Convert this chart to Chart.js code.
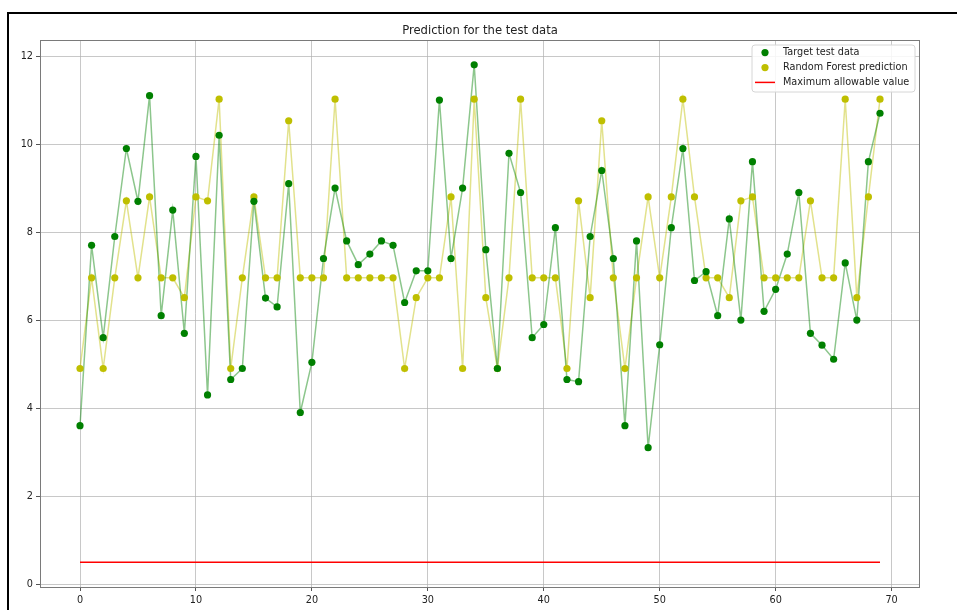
<!DOCTYPE html>
<html>
<head>
<meta charset="utf-8">
<script src="https://cdn.jsdelivr.net/npm/chart.js@4.4.1/dist/chart.umd.min.js"></script>
<style>
  html, body { margin: 0; padding: 0; background: #ffffff; }
  #wrap { width: 957px; height: 610px; position: relative; }
  canvas { display: block; }
</style>
</head>
<body>
<div id="wrap"><canvas id="c" width="957" height="610"></canvas></div>
<script>
// ---- data ----
const xIndex = [0,1,2,3,4,5,6,7,8,9,10,11,12,13,14,15,16,17,18,19,20,21,22,23,24,25,26,27,28,29,30,31,32,33,34,35,36,37,38,39,40,41,42,43,44,45,46,47,48,49,50,51,52,53,54,55,56,57,58,59,60,61,62,63,64,65,66,67,68,69];
const targetValues = [3.6,7.7,5.6,7.9,9.9,8.7,11.1,6.1,8.5,5.7,9.72,4.3,10.2,4.65,4.9,8.7,6.5,6.3,9.1,3.9,5.04,7.4,9.0,7.8,7.26,7.5,7.8,7.7,6.4,7.12,7.12,11.0,7.4,9.0,11.8,7.6,4.9,9.79,8.9,5.6,5.9,8.1,4.65,4.6,7.9,9.4,7.4,3.6,7.8,3.1,5.44,8.1,9.9,6.9,7.1,6.1,8.3,6.0,9.6,6.2,6.7,7.5,8.9,5.7,5.43,5.11,7.3,6.0,9.6,10.7];
const rfPrediction = [4.9,6.96,4.9,6.96,8.71,6.96,8.8,6.96,6.96,6.51,8.8,8.71,11.02,4.9,6.96,8.8,6.96,6.96,10.53,6.96,6.96,6.96,11.02,6.96,6.96,6.96,6.96,6.96,4.9,6.51,6.96,6.96,8.8,4.9,11.02,6.51,4.9,6.96,11.02,6.96,6.96,6.96,4.9,8.71,6.51,10.53,6.96,4.9,6.96,8.8,6.96,8.8,11.02,8.8,6.96,6.96,6.51,8.71,8.8,6.96,6.96,6.96,6.96,8.71,6.96,6.96,11.02,6.51,8.8,11.02];
const maxAllowableValue = 0.5;
const maxLineX = [0, 69];
const xTicks = [0,10,20,30,40,50,60,70];
const yTicks = [0,2,4,6,8,10,12];
const seriesLabels = ['Target test data', 'Random Forest prediction', 'Maximum allowable value'];
const titleText = 'Prediction for the test data';

// ---- build ----
const targetPts = xIndex.map((x, i) => ({ x: x, y: targetValues[i] }));
const rfPts = xIndex.map((x, i) => ({ x: x, y: rfPrediction[i] }));
const maxPts = maxLineX.map(x => ({ x: x, y: maxAllowableValue }));

const GREEN = '#008000';
const YELLOW = '#bfbf00';
const FONT = 'DejaVu Sans';
const tickFont = { family: FONT, size: 9.7 };
const PR = 3.6;

const decor = {
  id: 'decor',
  beforeDraw(chart) {
    const ctx = chart.ctx;
    ctx.save();
    ctx.fillStyle = '#ffffff';
    ctx.fillRect(0, 0, chart.width, chart.height);
    ctx.restore();
  },
  afterDatasetsDraw(chart) {
    const ctx = chart.ctx;
    const a = chart.chartArea;
    ctx.save();
    // spines
    ctx.strokeStyle = '#7a7a7a';
    ctx.lineWidth = 1;
    ctx.strokeRect(a.left + 0.5, a.top + 0.5, a.right - a.left - 1, a.bottom - a.top);
    // legend box
    const bx = 752, by = 45, bw = 163, bh = 47, r = 3;
    ctx.beginPath();
    ctx.moveTo(bx + r, by);
    ctx.lineTo(bx + bw - r, by);
    ctx.arcTo(bx + bw, by, bx + bw, by + r, r);
    ctx.lineTo(bx + bw, by + bh - r);
    ctx.arcTo(bx + bw, by + bh, bx + bw - r, by + bh, r);
    ctx.lineTo(bx + r, by + bh);
    ctx.arcTo(bx, by + bh, bx, by + bh - r, r);
    ctx.lineTo(bx, by + r);
    ctx.arcTo(bx, by, bx + r, by, r);
    ctx.closePath();
    ctx.fillStyle = 'rgba(255,255,255,0.85)';
    ctx.fill();
    ctx.strokeStyle = '#d6d6d6';
    ctx.lineWidth = 1;
    ctx.stroke();
    const rows = [52.6, 67.6, 82.4];
    ctx.fillStyle = GREEN;
    ctx.beginPath(); ctx.arc(765, rows[0], PR, 0, Math.PI * 2); ctx.fill();
    ctx.fillStyle = YELLOW;
    ctx.beginPath(); ctx.arc(765, rows[1], PR, 0, Math.PI * 2); ctx.fill();
    ctx.strokeStyle = '#ff0000';
    ctx.lineWidth = 1.5;
    ctx.beginPath(); ctx.moveTo(755, rows[2]); ctx.lineTo(775, rows[2]); ctx.stroke();
    ctx.fillStyle = '#222222';
    ctx.font = '9.7px "' + FONT + '"';
    ctx.textBaseline = 'middle';
    ctx.textAlign = 'left';
    seriesLabels.forEach((t, i) => ctx.fillText(t, 783, rows[i]));
    // title
    ctx.font = '11.6px "' + FONT + '"';
    ctx.textAlign = 'center';
    ctx.textBaseline = 'alphabetic';
    ctx.fillText(titleText, (a.left + a.right) / 2, 33.5);
    // outer frame
    ctx.fillStyle = '#000000';
    ctx.fillRect(7, 12, chart.width - 7, 2);
    ctx.fillRect(7, 12, 2, chart.height - 12);
    ctx.restore();
  }
};

new Chart(document.getElementById('c'), {
  type: 'scatter',
  data: {
    datasets: [
      { label: seriesLabels[0], data: targetPts, showLine: false, pointRadius: PR, pointHoverRadius: PR,
        pointBackgroundColor: GREEN, pointBorderWidth: 0, borderColor: GREEN, order: 0 },
      { label: seriesLabels[1], data: rfPts, showLine: false, pointRadius: PR, pointHoverRadius: PR,
        pointBackgroundColor: YELLOW, pointBorderWidth: 0, borderColor: YELLOW, order: 1 },
      { label: seriesLabels[2], data: maxPts, showLine: true, pointRadius: 0, borderColor: '#ff0000',
        borderWidth: 1.5, order: 2 },
      { label: 'target line', data: targetPts, showLine: true, pointRadius: 0,
        borderColor: 'rgba(0,128,0,0.45)', borderWidth: 1.5, order: 3 },
      { label: 'rf line', data: rfPts, showLine: true, pointRadius: 0,
        borderColor: 'rgba(191,191,0,0.45)', borderWidth: 1.5, order: 4 }
    ]
  },
  options: {
    responsive: false,
    animation: false,
    devicePixelRatio: 1,
    layout: { padding: { top: 40, right: 37, left: 0, bottom: 0 } },
    plugins: { legend: { display: false }, title: { display: false }, tooltip: { enabled: false } },
    events: [],
    scales: {
      x: {
        type: 'linear', min: -3.45, max: 72.45,
        afterBuildTicks: s => { s.ticks = xTicks.map(v => ({ value: v })); },
        afterFit: s => { s.height = 23; },
        grid: { color: 'rgba(176,176,176,0.7)', lineWidth: 1, drawTicks: true, tickLength: 4, tickColor: '#555555' },
        border: { display: false },
        ticks: { font: tickFont, color: '#222222', padding: 4, maxRotation: 0, autoSkip: false }
      },
      y: {
        type: 'linear', min: -0.065, max: 12.365,
        afterBuildTicks: s => { s.ticks = yTicks.map(v => ({ value: v })); },
        afterFit: s => { s.width = 40; },
        grid: { color: 'rgba(176,176,176,0.7)', lineWidth: 1, drawTicks: true, tickLength: 4, tickColor: '#555555' },
        border: { display: false },
        ticks: { font: tickFont, color: '#222222', padding: 3, autoSkip: false }
      }
    }
  },
  plugins: [decor]
});
</script>
</body>
</html>
